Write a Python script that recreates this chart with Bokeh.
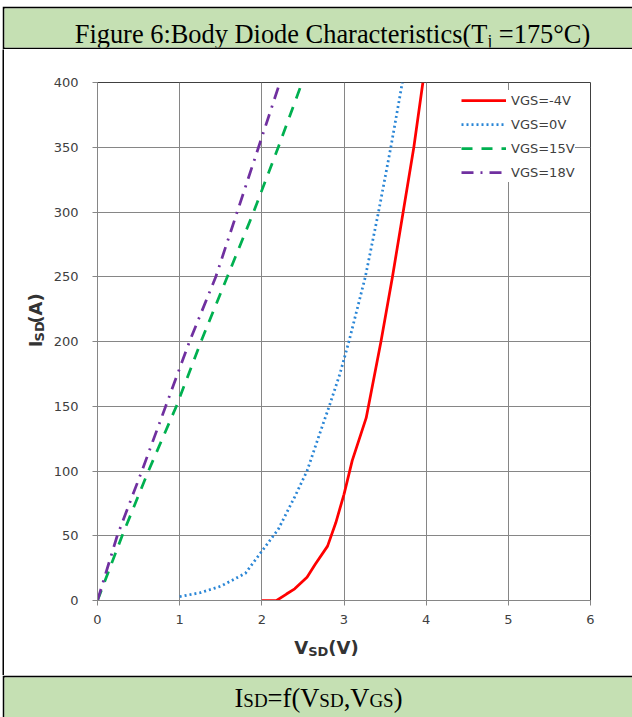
import math
from bokeh.plotting import figure
from bokeh.models import Range1d, FixedTicker, Legend, LegendItem, Spacer, ColumnDataSource
from bokeh.layouts import column, row
from bokeh.embed import file_html
from bokeh.resources import INLINE
from bokeh.core.properties import value

# ---------------- data ----------------
vsd_m4 = [2.00, 2.18, 2.30, 2.40, 2.55, 2.65, 2.80, 2.90, 3.00, 3.10, 3.27, 3.45, 3.59, 3.72, 3.85, 3.96]
isd_m4 = [0, 0, 5, 9, 18, 28, 42, 60, 82, 108, 141, 200, 250, 300, 350, 400]

vsd_0 = [1.00, 1.25, 1.50, 1.80, 2.00, 2.20, 2.40, 2.55, 2.70, 2.82, 2.95, 3.06, 3.26, 3.42, 3.57, 3.71]
isd_0 = [3, 6, 11, 21, 38, 55, 80, 100, 128, 150, 175, 200, 250, 300, 350, 400]

vsd_15 = [0.0, 0.30, 0.62, 0.96, 1.26, 1.58, 1.90, 2.20, 2.49]
isd_15 = [0, 50, 100, 150, 200, 250, 300, 350, 400]

vsd_18 = [0.0, 0.24, 0.54, 0.83, 1.12, 1.44, 1.70, 1.96, 2.22]
isd_18 = [0, 50, 100, 150, 200, 250, 300, 350, 400]

series_names = ["VGS=-4V", "VGS=0V", "VGS=15V", "VGS=18V"]
x_ticks = [0, 1, 2, 3, 4, 5, 6]
y_ticks = [0, 50, 100, 150, 200, 250, 300, 350, 400]

header_parts = [("Figure 6:Body Diode Characteristics(T", "main"), ("j", "sub"), (" =175°C)", "main")]
footer_parts = [("I", "main"), ("SD", "small"), ("=f(V", "main"), ("SD", "small"),
                (",V", "main"), ("GS", "small"), (")", "main")]
xlabel_parts = [("V", "main"), ("SD", "sub"), ("(V)", "main")]
ylabel_parts = [("I", "main"), ("SD", "sub"), ("(A)", "main")]

# ---------------- styling ----------------
GREEN = "#c5e0b3"
GRID = "#868686"
TICK_FONT = "DejaVu Sans"
SERIF = "Liberation Serif"
BASE_FIX = 0.30   # empirical correction of bokeh's alphabetic baseline (fraction of font size)

TIMES = {'F': .556, 'i': .278, 'g': .5, 'u': .5, 'r': .333, 'e': .444, ' ': .25, '6': .5, ':': .278,
         'B': .667, 'o': .5, 'd': .5, 'y': .5, 'D': .722, 'C': .667, 'h': .5, 'a': .444, 'c': .444,
         't': .278, 's': .389, '(': .333, ')': .333, 'T': .611, 'j': .278, '=': .564, '1': .5,
         '7': .5, '5': .5, '°': .4, 'I': .333, 'S': .556, 'f': .333, 'V': .722, ',': .25, 'G': .722}
DVB = {'I': .372, 'S': .720, 'D': .830, '(': .457, ')': .457, 'A': .774, 'V': .774, ' ': .348}


def layout_parts(parts, sizes, table):
    """returns (offsets along text direction of the visible text, stripped texts, total width)"""
    xs, texts, x = [], [], 0.0
    for t, k in parts:
        lead = len(t) - len(t.lstrip(" "))
        xs.append(x + lead * table[' '] * sizes[k])
        texts.append(t.lstrip(" "))
        x += sum(table.get(c, 0.55) for c in t) * sizes[k]
    return xs, texts, x


def band_figure(w, h, x0, y0, y1, borders, bg, bfill="black"):
    l, t, b, r = borders
    return figure(width=w, height=h, x_range=Range1d(x0, x0 + w - l - r), y_range=Range1d(y1, y0),
                  min_border_left=l, min_border_top=t, min_border_bottom=b, min_border_right=r,
                  toolbar_location=None, output_backend="svg", title=None,
                  x_axis_type=None, y_axis_type=None,
                  background_fill_color=bg, border_fill_color=bfill, outline_line_color=None)


def draw_parts(fig, parts, sizes, dys, table, center, baseline, font, style, color, vertical=False):
    offs, texts, total = layout_parts(parts, sizes, table)
    start = center - total / 2
    xs, ys = [], []
    for (t, k), o in zip(parts, offs):
        fix = BASE_FIX * sizes[k]
        if not vertical:
            xs.append(start + o)
            ys.append(baseline + dys[k] - fix)
        else:
            xs.append(baseline + dys[k] - fix)
            ys.append(start + total - o)   # canvas y goes down; text runs upward
    src = ColumnDataSource(dict(x=xs, y=ys, text=texts,
                                size=[f"{sizes[k]}px" for _, k in parts]))
    fig.text(x="x", y="y", text="text", text_font_size="size", source=src,
             angle=(math.pi / 2 if vertical else 0),
             text_font=value(font), text_font_style=style, text_baseline="alphabetic",
             text_align="left", text_color=color)


# ---------------- header (canvas x 2..632, y 6..49) ----------------
hdr = band_figure(630, 43, 4, 8, 47, (2, 2, 2, 0), GREEN)
draw_parts(hdr, header_parts, {"main": 26.4, "sub": 17}, {"main": 0, "sub": 4}, TIMES,
           332, 41, SERIF, "normal", "black")

# ---------------- footer (canvas y 675..717) ----------------
ftr = band_figure(630, 42, 4, 677, 717, (2, 2, 0, 0), GREEN)
draw_parts(ftr, footer_parts, {"main": 26.5, "small": 19}, {"main": 0, "small": 1}, TIMES,
           318, 705, SERIF, "normal", "black")

# ---------------- left border strip ----------------
strip = figure(width=2, height=626, min_border=0, toolbar_location=None, output_backend="svg",
               title=None, x_axis_type=None, y_axis_type=None,
               background_fill_color="black", border_fill_color="black", outline_line_color=None)

# ---------------- y-axis title panel (canvas x 4..49, y 49..635) ----------------
ylab = band_figure(45, 586, 4, 49, 635, (0, 0, 0, 0), "white", "white")
draw_parts(ylab, ylabel_parts, {"main": 18, "sub": 13}, {"main": 0, "sub": 3}, DVB,
           320, 40, TICK_FONT, "bold", "#333333", vertical=True)

# ---------------- x-axis title panel (canvas x 4..632, y 635..675) ----------------
xlab = band_figure(628, 40, 4, 635, 675, (0, 0, 0, 0), "white", "white")
draw_parts(xlab, xlabel_parts, {"main": 18, "sub": 13}, {"main": 0, "sub": 3}, DVB,
           326, 652, TICK_FONT, "bold", "#333333")

# ---------------- main chart (canvas x 49..632, y 49..635) ----------------
p = figure(frame_width=493, frame_height=518, x_range=Range1d(0, 6), y_range=Range1d(0, 400),
           min_border_left=48, min_border_right=42, min_border_top=33, min_border_bottom=35,
           toolbar_location=None, output_backend="svg", title=None,
           background_fill_color="white", border_fill_color="white",
           outline_line_color="#404040", outline_line_width=1)

p.xaxis.ticker = FixedTicker(ticks=x_ticks)
p.yaxis.ticker = FixedTicker(ticks=y_ticks)
p.xgrid.ticker = FixedTicker(ticks=x_ticks)
p.ygrid.ticker = FixedTicker(ticks=y_ticks)
for g in (p.xgrid, p.ygrid):
    g.grid_line_color = GRID
    g.grid_line_width = 1
for ax in (p.xaxis, p.yaxis):
    ax.axis_line_color = GRID
    ax.major_tick_line_color = GRID
    ax.major_tick_out = 5
    ax.major_tick_in = 0
    ax.minor_tick_out = 0
    ax.minor_tick_in = 0
    ax.major_label_text_font = TICK_FONT
    ax.major_label_text_font_size = "13px"
    ax.major_label_text_color = "#404040"
p.xaxis.major_label_standoff = 9
p.yaxis.major_label_standoff = 14

r1 = p.line(vsd_m4, isd_m4, line_color="#ff0000", line_width=2.75)
r2 = p.line(vsd_0, isd_0, line_color="#2a86d6", line_width=2.75, line_dash="2 3")
r3 = p.line(vsd_15, isd_15, line_color="#00b050", line_width=2.75, line_dash="11 9")
r4 = p.line(vsd_18, isd_18, line_color="#7030a0", line_width=2.75, line_dash="12 7 2 7")

legend = Legend(items=[LegendItem(label=n, renderers=[r]) for n, r in zip(series_names, [r1, r2, r3, r4])],
                location=(364, 418), glyph_width=45, glyph_height=20, label_height=20,
                spacing=4, padding=6, margin=0, label_standoff=5,
                label_text_font=TICK_FONT, label_text_font_size="13px", label_text_color="#404040",
                border_line_color=None, background_fill_color="white", background_fill_alpha=1.0)
p.add_layout(legend)

layout = row(Spacer(width=2, height=717),
             column(Spacer(width=630, height=6), hdr,
                    row(strip, column(row(ylab, p), xlab)),
                    ftr))

open("out.html", "w").write(file_html(layout, INLINE))
